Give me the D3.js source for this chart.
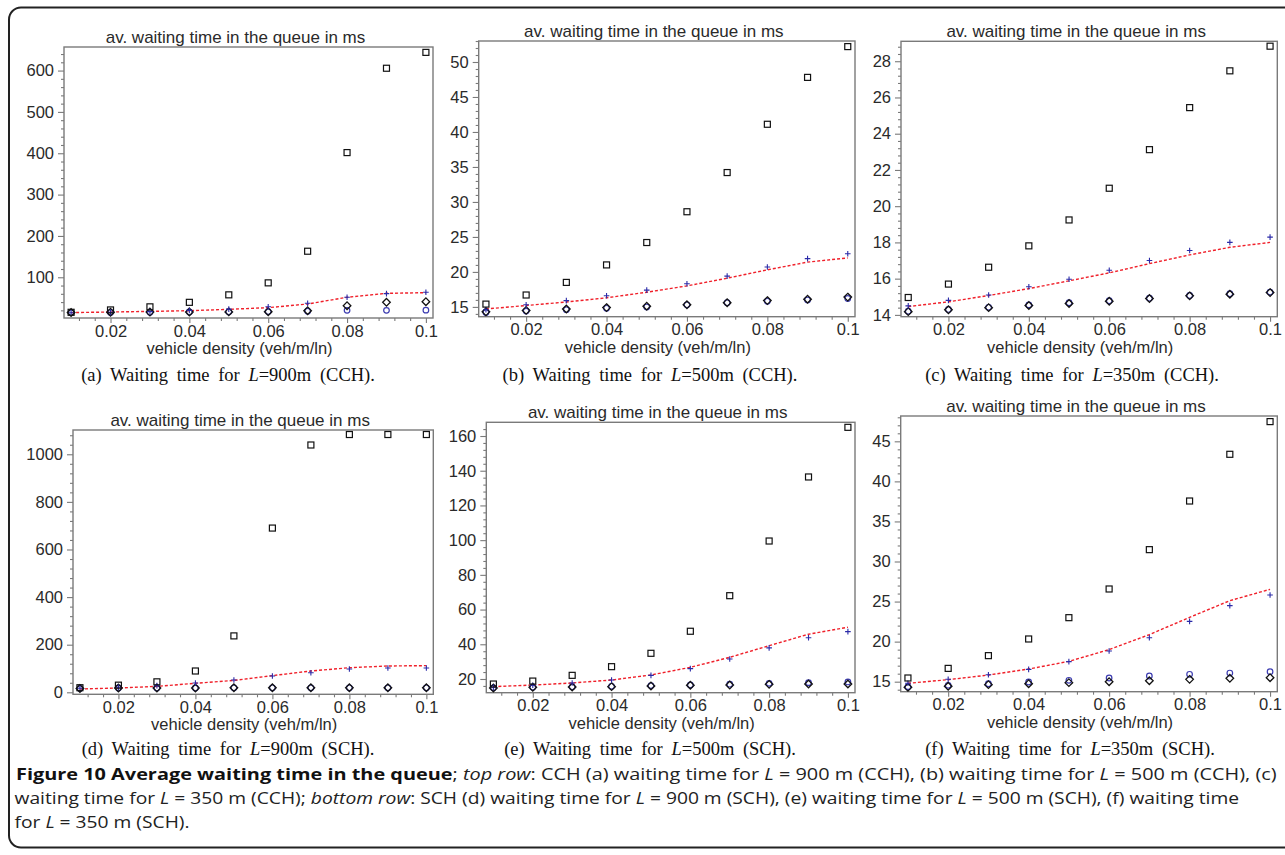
<!DOCTYPE html>
<html>
<head>
<meta charset="utf-8">
<script src="https://cdn.jsdelivr.net/npm/d3@7"></script>
<style>
  html, body { margin: 0; padding: 0; background: #fff; }
  svg { display: block; }
</style>
</head>
<body>
<script>
// ---------------- data ----------------
const density = [0.01, 0.02, 0.03, 0.04, 0.05, 0.06, 0.07, 0.08, 0.09, 0.1];
const panelIds = ["a", "b", "c", "d", "e", "f"];
const panelLengths = ["900", "500", "350", "900", "500", "350"];
const panelChannels = ["CCH", "CCH", "CCH", "SCH", "SCH", "SCH"];
const plotTitle = "av. waiting time in the queue in ms";
const xAxisTitle = "vehicle density (veh/m/ln)";
const xTickValues = [0.02, 0.04, 0.06, 0.08, 0.1];

// squares (black)
const squareSeries = [
  [15.3, 21.0, 28.5, 39.4, 57.5, 86.5, 163, 401.6, 605.6, 644],
  [15.4, 16.7, 18.5, 21.0, 24.2, 28.6, 34.2, 41.1, 47.8, 52.2],
  [14.96, 15.7, 16.63, 17.81, 19.24, 20.99, 23.12, 25.44, 27.47, 28.83],
  [19.3, 30, 44, 89.5, 237, 690, 1039, 1083, 1083, 1083],
  [17.1, 18.8, 22.1, 27.1, 34.8, 47.5, 68, 99.5, 136.4, 165],
  [15.46, 16.66, 18.25, 20.33, 22.99, 26.57, 31.48, 37.55, 43.38, 47.46]
];
// plus signs (blue)
const plusSeries = [
  [14.2, 15.2, 17.0, 20.0, 23.0, 28.8, 37.0, 51.6, 60.4, 63.7],
  [14.6, 15.3, 15.9, 16.6, 17.4, 18.3, 19.4, 20.7, 21.9, 22.6],
  [14.5, 14.8, 15.1, 15.55, 15.97, 16.46, 17.0, 17.55, 18.0, 18.29],
  [17, 21, 28, 39, 51.7, 68.5, 82.4, 97.9, 102, 102],
  [15.2, 16.4, 17.7, 19.4, 22.1, 26.0, 31.5, 37.9, 43.8, 47.3],
  [14.8, 15.3, 15.87, 16.54, 17.5, 18.83, 20.49, 22.53, 24.49, 25.82]
];
// circles (blue)
const circleSeries = [
  [14.5, 15.0, 15.5, 16.0, 16.5, 17.0, 18.0, 20.0, 20.0, 20.5],
  [14.2, 14.4, 14.6, 14.8, 15.0, 15.3, 15.6, 15.8, 16.0, 16.2],
  [14.2, 14.3, 14.42, 14.55, 14.67, 14.78, 14.92, 15.07, 15.17, 15.26],
  [16, 18, 18, 18, 19, 19, 19, 19, 19, 19],
  [14.9, 15.3, 15.5, 15.8, 16.2, 16.6, 17.0, 17.5, 17.9, 18.3],
  [14.38, 14.54, 14.75, 14.96, 15.17, 15.46, 15.71, 15.92, 16.08, 16.25]
];
// diamonds (black)
const diamondSeries = [
  [14.8, 15.5, 15.8, 16.0, 16.3, 16.8, 19.2, 31.3, 39.4, 41.0],
  [14.3, 14.5, 14.7, 14.9, 15.1, 15.3, 15.6, 15.9, 16.1, 16.4],
  [14.18, 14.28, 14.4, 14.52, 14.63, 14.75, 14.9, 15.05, 15.14, 15.23],
  [16, 18, 18, 18, 19, 19, 19, 19, 19, 19],
  [14.8, 15.2, 15.4, 15.6, 16.0, 16.4, 16.5, 16.9, 17.1, 17.1],
  [14.29, 14.42, 14.63, 14.75, 14.88, 15.0, 15.12, 15.29, 15.42, 15.5]
];
// model curve (red dashed)
const modelSeries = [
  [14.5, 16.0, 17.5, 19.2, 22.5, 26.5, 35.4, 51.6, 61.2, 62.7],
  [14.7, 15.2, 15.7, 16.3, 17.1, 18.0, 19.1, 20.3, 21.4, 22.0],
  [14.46, 14.72, 15.07, 15.45, 15.88, 16.32, 16.83, 17.31, 17.73, 18.0],
  [14, 18, 25, 37.8, 50, 70, 89.5, 103.4, 110.5, 112],
  [15.6, 16.5, 17.7, 19.4, 22.3, 26.7, 32.5, 39.2, 45.8, 49.8],
  [14.8, 15.25, 15.83, 16.58, 17.54, 19.0, 20.87, 23.03, 25.11, 26.53]
];
// y axes
const yDomains = [[1.5, 657], [13.6, 53], [13.9, 29.1], [-8.4, 1102], [12.1, 167.9], [13.75, 48.16]];
const yMajorTicks = [
  [100, 200, 300, 400, 500, 600],
  [15, 20, 25, 30, 35, 40, 45, 50],
  [14, 16, 18, 20, 22, 24, 26, 28],
  [0, 200, 400, 600, 800, 1000],
  [20, 40, 60, 80, 100, 120, 140, 160],
  [15, 20, 25, 30, 35, 40, 45]
];
const xDomain = [0.0082, 0.1018];

// ---------------- layout ----------------
const boxes = [
  { l: 64,    t: 47,    r: 433,    b: 318,   cap: 228 },
  { l: 478.7, t: 41,    r: 855,    b: 316.7, cap: 650 },
  { l: 901,   t: 41.3,  r: 1277.3, b: 316.7, cap: 1072 },
  { l: 73,    t: 430,   r: 433.3,  b: 694.3, cap: 228 },
  { l: 486.3, t: 422.3, r: 855,    b: 692.7, cap: 650 },
  { l: 900.7, t: 416,   r: 1277.3, b: 691.7, cap: 1070 }
];
const capY = [381, 381, 381, 755, 755, 755];

const W = 1285, H = 855;
const svg = d3.select("body").append("svg").attr("width", W).attr("height", H);

// outer rounded frame
svg.append("rect")
  .attr("x", 9).attr("y", 7.5).attr("width", 1320).attr("height", 840)
  .attr("rx", 12).attr("ry", 12)
  .attr("fill", "none").attr("stroke", "#222").attr("stroke-width", 2);

const axisFont = "'Liberation Sans', Arial, sans-serif";
const textCol = "#2a2a2a";
const boxCol = "#7a7a7a";
const fmt = d3.format("~g");

function minorTicks(domain, majors) {
  const step = (majors[1] - majors[0]) / 5;
  const start = Math.ceil((domain[0] - 1e-9) / step);
  const end = Math.floor((domain[1] + 1e-9) / step);
  const out = [];
  for (let k = start; k <= end; k++) {
    const v = +(k * step).toFixed(6);
    if (!majors.some(m => Math.abs(m - v) < step * 0.01)) out.push(v);
  }
  return out;
}

boxes.forEach((bx, i) => {
  const g = svg.append("g");
  const x = d3.scaleLinear().domain(xDomain).range([bx.l, bx.r]);
  const y = d3.scaleLinear().domain(yDomains[i]).range([bx.b, bx.t]);

  g.append("rect")
    .attr("x", bx.l).attr("y", bx.t)
    .attr("width", bx.r - bx.l).attr("height", bx.b - bx.t)
    .attr("fill", "none").attr("stroke", boxCol).attr("stroke-width", 1.4);

  const yAx = g.append("g").attr("transform", `translate(${bx.l},0)`)
    .call(d3.axisLeft(y).tickValues(yMajorTicks[i]).tickSize(6).tickPadding(4).tickFormat(fmt));
  const yMin = g.append("g").attr("transform", `translate(${bx.l},0)`)
    .call(d3.axisLeft(y).tickValues(minorTicks(yDomains[i], yMajorTicks[i])).tickSize(3).tickFormat(""));
  const xAx = g.append("g").attr("transform", `translate(0,${bx.b})`)
    .call(d3.axisBottom(x).tickValues(xTickValues).tickSize(5).tickPadding(2).tickFormat(fmt));
  const xMin = g.append("g").attr("transform", `translate(0,${bx.b})`)
    .call(d3.axisBottom(x).tickValues(minorTicks(xDomain, xTickValues)).tickSize(3).tickFormat(""));

  [yAx, yMin, xAx, xMin].forEach(a => {
    a.select(".domain").remove();
    a.selectAll(".tick line").attr("stroke", boxCol).attr("stroke-width", 1.1);
    a.selectAll(".tick text").attr("fill", textCol)
      .style("font-family", axisFont).style("font-size", "16.5px");
  });

  const cx = (bx.l + bx.r) / 2;
  g.append("text").attr("x", cx - 13).attr("y", bx.t - 4)
    .attr("text-anchor", "middle").attr("fill", textCol)
    .style("font-family", axisFont).style("font-size", "17px")
    .text(plotTitle);
  g.append("text").attr("x", cx - 9).attr("y", bx.b + 36)
    .attr("text-anchor", "middle").attr("fill", textCol)
    .style("font-family", axisFont).style("font-size", "16.5px")
    .text(xAxisTitle);

  const cap = g.append("text").attr("x", bx.cap).attr("y", capY[i])
    .attr("text-anchor", "middle").attr("fill", "#111")
    .style("font-family", "'Liberation Serif', 'Times New Roman', serif")
    .style("font-size", "18.5px").style("word-spacing", "4px");
  cap.append("tspan").text(`(${panelIds[i]}) Waiting time for `);
  cap.append("tspan").style("font-style", "italic").text("L");
  cap.append("tspan").text(`=${panelLengths[i]}m (${panelChannels[i]}).`);

  const pts = density.map((d, k) => k);

  const line = d3.line().x(k => x(density[k])).y(k => y(modelSeries[i][k]));
  g.append("path").attr("d", line(pts))
    .attr("fill", "none").attr("stroke", "#f0202a").attr("stroke-width", 1.4)
    .attr("stroke-dasharray", "3,2");

  g.selectAll(".circ").data(pts).join("circle")
    .attr("cx", k => x(density[k])).attr("cy", k => y(circleSeries[i][k]))
    .attr("r", 2.8).attr("fill", "none").attr("stroke", "#3b3bb0").attr("stroke-width", 1.2);

  g.selectAll(".dia").data(pts).join("path")
    .attr("d", k => {
      const px = x(density[k]), py = y(diamondSeries[i][k]), s = 3.8;
      return `M${px},${py - s}L${px + s},${py}L${px},${py + s}L${px - s},${py}Z`;
    })
    .attr("fill", "none").attr("stroke", "#111").attr("stroke-width", 1.3);

  g.selectAll(".plus").data(pts).join("path")
    .attr("d", k => {
      const px = x(density[k]), py = y(plusSeries[i][k]), s = 2.8;
      return `M${px - s},${py}H${px + s}M${px},${py - s}V${py + s}`;
    })
    .attr("fill", "none").attr("stroke", "#2a2aa8").attr("stroke-width", 1.1);

  g.selectAll(".sq").data(pts).join("rect")
    .attr("x", k => x(density[k]) - 3).attr("y", k => y(squareSeries[i][k]) - 3)
    .attr("width", 6).attr("height", 6)
    .attr("fill", "none").attr("stroke", "#111").attr("stroke-width", 1.2);
});

// ---------------- figure caption ----------------
const capFont = "'Open Sans', 'Noto Sans', sans-serif";
const capLines = [
  [["Figure 10 Average waiting time in the queue", "b"], ["; ", ""], ["top row", "i"],
   [": CCH (a) waiting time for ", ""], ["L", "i"], [" = 900 m (CCH), (b) waiting time for ", ""],
   ["L", "i"], [" = 500 m (CCH), (c)", ""]],
  [["waiting time for ", ""], ["L", "i"], [" = 350 m (CCH); ", ""], ["bottom row", "i"],
   [": SCH (d) waiting time for ", ""], ["L", "i"], [" = 900 m (SCH), (e) waiting time for ", ""],
   ["L", "i"], [" = 500 m (SCH), (f) waiting time", ""]],
  [["for ", ""], ["L", "i"], [" = 350 m (SCH).", ""]]
];
const capBase = [780, 804, 828];
const capWidths = [1261, 1226, null];
let lastScale = 1;
capLines.forEach((parts, li) => {
  const t = svg.append("text").attr("x", 0).attr("y", 0).attr("fill", "#222")
    .style("font-family", capFont).style("font-size", "16.5px");
  parts.forEach(([s, st]) => {
    const ts = t.append("tspan").text(s);
    if (st === "b") ts.style("font-weight", "bold").attr("fill", "#111");
    if (st === "i") ts.style("font-style", "italic");
  });
  const w = t.node().getComputedTextLength();
  const sc = capWidths[li] ? capWidths[li] / w : lastScale;
  lastScale = sc;
  t.attr("transform", `translate(${li === 0 ? 16 : 14.5},${capBase[li]}) scale(${sc},1)`);
});
</script>
</body>
</html>
